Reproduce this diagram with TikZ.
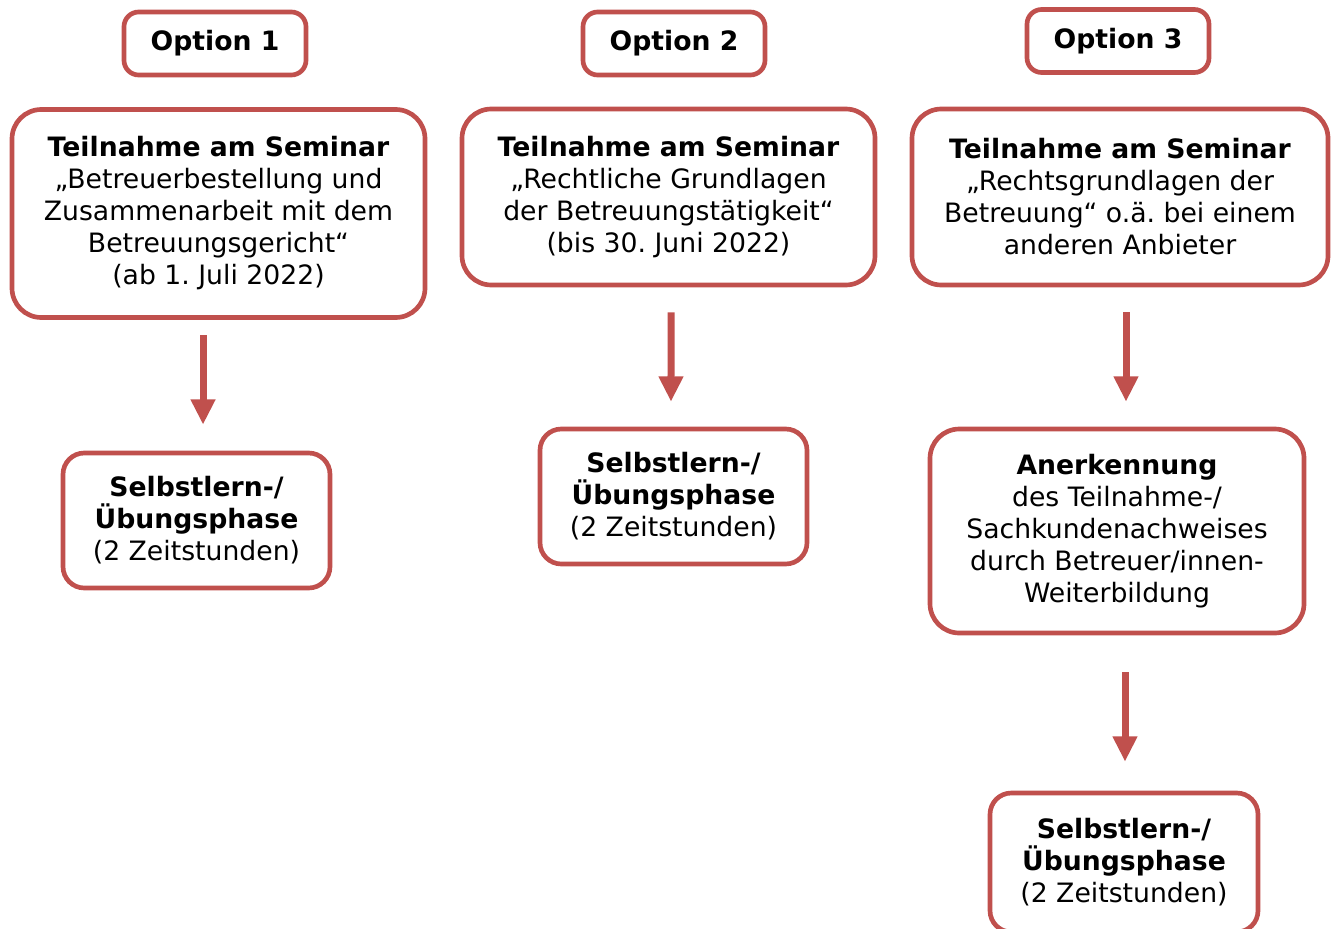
\documentclass[tikz,border=0pt]{standalone}
\usepackage{fontspec}
\setmainfont{DejaVu Sans}
\frenchspacing
\usetikzlibrary{arrows.meta}
\definecolor{boxred}{HTML}{C0504D}
\tikzset{
  box/.style={draw=boxred, line width=3.5pt, rounded corners=22pt, fill=white,
    align=center, inner sep=0pt, text=black,
    font=\fontsize{20}{24}\selectfont\frenchspacing},
  optbox/.style={box, rounded corners=11pt, minimum width=182*0.75pt, minimum height=63*0.75pt},
  arr/.style={draw=boxred, line width=5.25pt, -{Triangle[width=17.5pt,length=19pt]}}
}
\begin{document}
\begin{tikzpicture}[x=0.75pt,y=-0.75pt]
\useasboundingbox (0,0) rectangle (1334,928);
\node[optbox] (o1) at (215,43.5) {\textbf{Option 1}};
\node[optbox] (o2) at (674,43.5) {\textbf{Option 2}};
\node[optbox] (o3) at (1118,41) {\textbf{Option 3}};
\node[box, minimum width=413*0.75pt, minimum height=208*0.75pt] (b1) at (218.5,213.5)
  {\textbf{Teilnahme am Seminar}\\„Betreuerbestellung und\\Zusammenarbeit mit dem\\Betreuungsgericht“\\(ab 1. Juli 2022)};
\node[box, minimum width=413*0.75pt, minimum height=176*0.75pt] (b2) at (668.5,197)
  {\textbf{Teilnahme am Seminar}\\„Rechtliche Grundlagen\\der Betreuungstätigkeit“\\(bis 30. Juni 2022)};
\node[box, minimum width=416*0.75pt, minimum height=176*0.75pt] (b3) at (1120,197)
  {\textbf{Teilnahme am Seminar}\\„Rechtsgrundlagen der\\Betreuung“ o.ä. bei einem\\anderen Anbieter};
\node[box, rounded corners=16pt, minimum width=267*0.75pt, minimum height=135*0.75pt] (s1) at (196.5,520.5)
  {\textbf{Selbstlern-/}\\\textbf{Übungsphase}\\(2 Zeitstunden)};
\node[box, rounded corners=16pt, minimum width=267*0.75pt, minimum height=135*0.75pt] (s2) at (673.5,496.5)
  {\textbf{Selbstlern-/}\\\textbf{Übungsphase}\\(2 Zeitstunden)};
\node[box, minimum width=374*0.75pt, minimum height=204*0.75pt] (a3) at (1117,531)
  {\textbf{Anerkennung}\\des Teilnahme-/\\Sachkundenachweises\\durch Betreuer/innen-\\Weiterbildung};
\node[box, rounded corners=16pt, minimum width=268*0.75pt, minimum height=139*0.75pt] (s3) at (1124,862.5)
  {\textbf{Selbstlern-/}\\\textbf{Übungsphase}\\(2 Zeitstunden)};
\draw[arr, shorten <=11.5pt, shorten >=19.5pt] ([xshift=-11.6pt]b1.south) -- ([xshift=4.9pt]s1.north);
\draw[arr, shorten <=18.75pt, shorten >=18.75pt] ([xshift=1.9pt]b2.south) -- ([xshift=-1.9pt]s2.north);
\draw[arr, shorten <=18.75pt, shorten >=18.75pt] ([xshift=4.5pt]b3.south) -- ([xshift=6.75pt]a3.north);
\draw[arr, shorten <=27.75pt, shorten >=21.75pt] ([xshift=6pt]a3.south) -- ([xshift=0.75pt]s3.north);
\end{tikzpicture}
\end{document}
